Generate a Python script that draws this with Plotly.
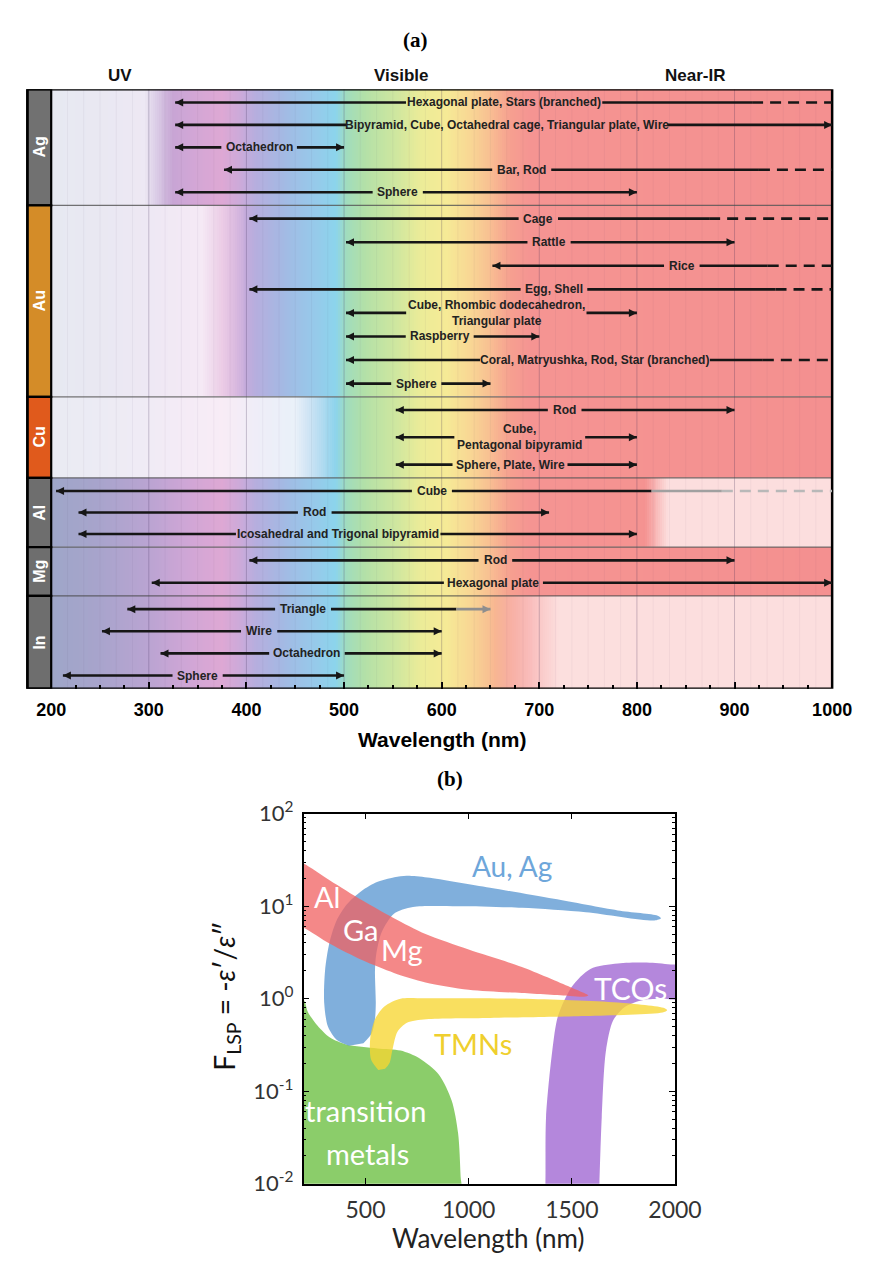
import numpy as np
import plotly.graph_objects as go

W, H = 882, 1267

# ======================= panel (a) data =======================
METALS = ["Ag", "Au", "Cu", "Al", "Mg", "In"]
METAL_COLORS = ["#717171", "#d48c28", "#e05a1c", "#6e6e6e", "#6e6e6e", "#6e6e6e"]

REGION_NAMES = ["UV", "Visible", "Near-IR"]
REGION_LABEL_AT = [270, 559, 859]          # nm

ARROW_METAL = ["Ag"] * 5 + ["Au"] * 8 + ["Cu"] * 3 + ["Al"] * 3 + ["Mg"] * 2 + ["In"] * 4
ARROW_LABEL = [
    "Hexagonal plate, Stars (branched)",
    "Bipyramid, Cube, Octahedral cage, Triangular plate, Wire",
    "Octahedron",
    "Bar, Rod",
    "Sphere",
    "Cage",
    "Rattle",
    "Rice",
    "Egg, Shell",
    "Cube, Rhombic dodecahedron,<br>Triangular plate",
    "Raspberry",
    "Coral, Matryushka, Rod, Star (branched)",
    "Sphere",
    "Rod",
    "Cube,<br>Pentagonal bipyramid",
    "Sphere, Plate, Wire",
    "Cube",
    "Rod",
    "Icosahedral and Trigonal bipyramid",
    "Rod",
    "Hexagonal plate",
    "Triangle",
    "Wire",
    "Octahedron",
    "Sphere",
]
ARROW_START = [327, 327, 327, 377, 327,
               403, 502, 652, 403, 502, 502, 502, 502,
               553, 553, 553,
               205, 228, 228,
               403, 303,
               278, 252, 312, 212]
ARROW_END = [1000, 1000, 500, 1000, 800,
             1000, 900, 1000, 1000, 800, 700, 1000, 650,
             900, 800, 800,
             1000, 710, 800,
             900, 1000,
             650, 600, 600, 500]
# wavelength where an open-ended range turns into a dashed line (None = closed range)
ARROW_DASH_FROM = [918, None, None, 925, None,
                   874, None, 934, 942, None, None, 929, None,
                   None, None, None,
                   887, None, None,
                   None, None,
                   None, None, None, None]
ARROW_LABEL_AT = [664, 667, 413, 682, 555,
                  699, 710, 846, 715, 656, 598, 757, 574,
                  726, 680, 670,
                  590, 470, 494,
                  655, 653,
                  458, 413, 462, 350]

# ======================= panel (b) data =======================
TM_WL = [150, 200, 222, 268, 328, 406, 558, 670, 763, 856, 918, 949, 961, 965, 150]
TM_F = [0.98, 0.97, 0.71, 0.51, 0.38, 0.32, 0.29, 0.275, 0.226, 0.151, 0.079, 0.035, 0.012, 0.005, 0.005]

AUAG_WL = [420, 360, 318, 300, 304, 325, 360, 410, 470, 550, 640, 700, 800, 1104, 1413, 1723, 1916, 1932,
           1900, 1568, 1258, 949, 730, 638, 578, 552, 546, 550, 546, 530, 490]
AUAG_F = [0.31, 0.36, 0.5, 0.9, 2.0, 4.0, 7.0, 10.5, 14.0, 18.0, 20.5, 21.3, 20.4, 15.8, 12.0, 9.0, 7.9, 7.4,
          7.0, 8.6, 9.6, 10.0, 9.8, 8.3, 5.2, 3.0, 2.0, 0.9, 0.6, 0.42, 0.33]

ALGAMG_WL = [150, 200, 328, 486, 638, 791, 1000, 1258, 1491, 1560, 1580,
             1560, 1491, 1258, 1000, 791, 638, 486, 330, 200, 150]
ALGAMG_F = [32, 29, 19, 11.5, 7.4, 5.0, 3.4, 2.2, 1.34, 1.15, 1.08,
            1.05, 1.07, 1.15, 1.25, 1.5, 1.9, 2.6, 3.9, 5.9, 6.6]

TMN_WL = [562, 527, 523, 546, 593, 670, 794, 1258, 1723, 1950, 1962,
          1940, 1568, 1104, 794, 701, 655, 632, 616, 595]
TMN_F = [0.17, 0.22, 0.37, 0.60, 0.83, 1.0, 1.01, 1.0, 0.91, 0.79, 0.75,
         0.71, 0.65, 0.62, 0.60, 0.55, 0.44, 0.29, 0.20, 0.175]

TCO_WL = [1367, 1372, 1375, 1405, 1433, 1500, 1590, 1723, 1878, 1990, 2060,
          2060, 1990, 1940, 1847, 1758, 1700, 1665, 1645, 1634, 1630]
TCO_F = [0.005, 0.01, 0.052, 0.27, 0.65, 1.35, 2.1, 2.4, 2.45, 2.34, 2.3,
         0.98, 0.98, 1.0, 0.97, 0.82, 0.58, 0.27, 0.052, 0.01, 0.005]

SHAPE_LABELS = ["Au, Ag", "Al", "Ga", "Mg", "TCOs", "TMNs", "transition", "metals"]
SHAPE_LABEL_WL = [1212, 314, 477, 678, 1785, 1019, 500, 508]
SHAPE_LABEL_F = [26.9, 12.6, 5.56, 3.39, 1.29, 0.324, 0.0617, 0.0214]

# ======================= styling / layout constants =======================
A_LEFT, A_RIGHT, A_TOP, A_BOT = 38, 858, 74, 688     # px
COL_LEFT = 13
GROUP_H = [119, 196, 83, 71, 50, 95]                 # px heights of metal rows
ROW_PAD = 13.5
PX_PER_NM = (A_RIGHT - A_LEFT) / 800.0
B_LEFT, B_RIGHT, B_TOP, B_BOT = 303, 693, 816, 1195

INK = "#161616"
FADE_INK = "#8e8e8e"
LABEL_SIZE = 12
GAP_PX = 6
LINE_W = 2.6
HEAD_SIZE = 8
FADED = {("Al", "Cube"): 815, ("In", "Triangle"): 615}

SPEC_NM = [200, 250, 300, 340, 375, 395, 410, 440, 470, 492, 502, 520, 550, 580, 605, 630, 650, 670, 690, 1000]
SPEC_RGB = [(158, 166, 200), (168, 164, 204), (186, 164, 210), (208, 166, 214), (222, 168, 212),
            (202, 170, 218), (182, 174, 222), (162, 186, 228), (150, 202, 234), (140, 212, 236),
            (160, 220, 190), (178, 224, 168), (204, 230, 160), (236, 236, 152), (246, 234, 150),
            (248, 214, 148), (248, 190, 146), (246, 160, 144), (245, 148, 146), (244, 144, 144)]
# (white mix before ramp, ramp start nm, ramp end nm, white mix after ramp)
WHITE_MIX = {"Ag": (0.75, 295, 325, 0.0), "Au": (0.75, 355, 400, 0.0), "Cu": (0.78, 450, 492, 0.0),
             "Al": (0.0, 808, 832, 0.7), "Mg": (0.0, 900, 950, 0.0), "In": (0.0, 655, 720, 0.7)}

HB = {' ': 278, ',': 278, '(': 333, ')': 333, '-': 333, '.': 278,
      'A': 722, 'B': 722, 'C': 722, 'D': 722, 'E': 667, 'F': 611, 'G': 778, 'H': 722, 'I': 278,
      'J': 556, 'K': 722, 'L': 611, 'M': 833, 'N': 722, 'O': 778, 'P': 667, 'Q': 778, 'R': 722,
      'S': 667, 'T': 611, 'U': 722, 'V': 667, 'W': 944, 'X': 667, 'Y': 667, 'Z': 611,
      'a': 556, 'b': 611, 'c': 556, 'd': 611, 'e': 556, 'f': 333, 'g': 611, 'h': 611, 'i': 278,
      'j': 278, 'k': 556, 'l': 278, 'm': 889, 'n': 611, 'o': 611, 'p': 611, 'q': 611, 'r': 389,
      's': 556, 't': 333, 'u': 611, 'v': 556, 'w': 778, 'x': 556, 'y': 556, 'z': 500}


def text_px(s, size):
    return max(sum(HB.get(ch, 556) for ch in ln) for ln in s.split("<br>")) * size / 1000.0


def px(x):
    return x / W


def py(y):
    return 1 - y / H


def note(**kw):
    d = dict(showarrow=False, xanchor="center", yanchor="middle")
    d.update(kw)
    return d


fig = go.Figure()
shapes = []
annotations = []

# ---------- background spectrum (one heatmap per metal row) ----------
lam_edges = np.arange(200, 1001, 2.0)
lam_c = (lam_edges[:-1] + lam_edges[1:]) / 2
spec = np.stack([np.interp(lam_c, SPEC_NM, [c[k] for c in SPEC_RGB]) for k in range(3)], axis=1)
N = len(lam_c)

group_top = np.concatenate([[0], np.cumsum(GROUP_H)[:-1]])
group_bot = np.cumsum(GROUP_H)

for g, metal in enumerate(METALS):
    w0, r0, r1, w1 = WHITE_MIX[metal]
    wmix = np.interp(lam_c, [r0, r1], [w0, w1])[:, None]
    rgb = spec * (1 - wmix) + 255 * wmix
    cs = [[i / (N - 1), "rgb(%d,%d,%d)" % tuple(np.round(rgb[i]).astype(int))] for i in range(N)]
    fig.add_trace(go.Heatmap(x=lam_edges, y=[group_top[g], group_bot[g]], z=[list(range(N))],
                             colorscale=cs, zmin=0, zmax=N - 1, showscale=False,
                             hoverinfo="skip", xaxis="x", yaxis="y"))

# faint vertical lines
for lam in range(300, 1000, 100):
    shapes.append(dict(type="line", xref="x", yref="y", x0=lam, x1=lam, y0=0, y1=sum(GROUP_H),
                       line=dict(color="rgba(70,50,90,0.22)", width=1), layer="above"))
for lam in np.arange(200, 1000, 100 / 6):
    shapes.append(dict(type="line", xref="x", yref="y", x0=lam, x1=lam, y0=0, y1=sum(GROUP_H),
                       line=dict(color="rgba(70,50,90,0.05)", width=1), layer="above"))
# horizontal separators
for yb in group_bot[:-1]:
    shapes.append(dict(type="line", xref="x", yref="y", x0=200, x1=1000, y0=yb, y1=yb,
                       line=dict(color="rgba(70,70,70,0.75)", width=1.2)))

# metal label column
for g, metal in enumerate(METALS):
    shapes.append(dict(type="rect", xref="paper", yref="y", x0=px(COL_LEFT), x1=px(A_LEFT),
                       y0=group_top[g], y1=group_bot[g], fillcolor=METAL_COLORS[g],
                       line=dict(color="black", width=2.2)))
    annotations.append(note(xref="paper", yref="y", x=px((COL_LEFT + A_LEFT) / 2),
                            y=(group_top[g] + group_bot[g]) / 2, text="<b>%s</b>" % metal,
                            textangle=-90,
                            font=dict(family="Liberation Sans", size=16, color="white")))

# frame
shapes.append(dict(type="rect", xref="paper", yref="y", x0=px(COL_LEFT), x1=px(A_RIGHT),
                   y0=0, y1=sum(GROUP_H), line=dict(color="black", width=2.5)))

# ---------- arrows ----------
arrow_y = []
for g, metal in enumerate(METALS):
    idx = [i for i, m in enumerate(ARROW_METAL) if m == metal]
    n = len(idx)
    top = group_top[g] + ROW_PAD
    bot = group_bot[g] - ROW_PAD
    for k in range(n):
        arrow_y.append(top + (bot - top) * k / (n - 1) if n > 1 else (top + bot) / 2)


def seg(x0, x1, y, color, dash="solid"):
    return dict(type="line", xref="x", yref="y", x0=x0, x1=x1, y0=y, y1=y,
                line=dict(color=color, width=LINE_W, dash=dash))


heads = {("left", INK): ([], []), ("right", INK): ([], []), ("right", FADE_INK): ([], [])}
DASH = "11px,7px"
for i, lab in enumerate(ARROW_LABEL):
    y = arrow_y[i]
    half = (text_px(lab, LABEL_SIZE) / 2 + GAP_PX) / PX_PER_NM
    xl = ARROW_LABEL_AT[i] - half
    xr = ARROW_LABEL_AT[i] + half
    shapes.append(seg(ARROW_START[i], xl, y, INK))
    heads[("left", INK)][0].append(ARROW_START[i])
    heads[("left", INK)][1].append(y)
    fade = FADED.get((ARROW_METAL[i], lab))
    dfrom = ARROW_DASH_FROM[i]
    end = ARROW_END[i]
    if fade is None:
        if dfrom is None:
            shapes.append(seg(xr, end, y, INK))
            heads[("right", INK)][0].append(end)
            heads[("right", INK)][1].append(y)
        else:
            shapes.append(seg(xr, dfrom, y, INK))
            shapes.append(seg(dfrom, end, y, INK, DASH))
    else:
        shapes.append(seg(xr, fade, y, INK))
        if dfrom is None:
            shapes.append(seg(fade, end, y, FADE_INK))
            heads[("right", FADE_INK)][0].append(end)
            heads[("right", FADE_INK)][1].append(y)
        else:
            shapes.append(seg(fade, dfrom, y, "#a0a0a0"))
            shapes.append(seg(dfrom, end, y, "#b8b8b8", DASH))
    annotations.append(note(x=ARROW_LABEL_AT[i], y=y, xref="x", yref="y", text="<b>%s</b>" % lab,
                            font=dict(family="Liberation Sans", size=LABEL_SIZE, color="#222"),
                            align="center"))

for (side, col), (xs, ys) in heads.items():
    fig.add_trace(go.Scatter(x=xs, y=ys, mode="markers", xaxis="x", yaxis="y", hoverinfo="skip",
                             marker=dict(symbol="arrow-%s" % side, size=HEAD_SIZE, color=col,
                                         line=dict(width=0)), cliponaxis=False))

# region headers
for name, lam in zip(REGION_NAMES, REGION_LABEL_AT):
    annotations.append(note(x=lam, y=py(60), xref="x", yref="paper", text="<b>%s</b>" % name,
                            font=dict(family="Liberation Sans", size=17, color="#111")))

annotations.append(note(x=px(420), y=py(24), xref="paper", yref="paper", text="<b>(a)</b>",
                        font=dict(family="Liberation Serif", size=21, color="black")))
annotations.append(note(x=px(448), y=py(740), xref="paper", yref="paper", text="<b>Wavelength (nm)</b>",
                        font=dict(family="Liberation Sans", size=21, color="black")))

# ======================= panel (b) =======================
B_FILLS = [
    (TM_WL, TM_F, "rgba(106,191,64,0.78)"),
    (TCO_WL, TCO_F, "rgba(161,105,211,0.8)"),
    (AUAG_WL, AUAG_F, "rgba(92,152,210,0.78)"),
    (ALGAMG_WL, ALGAMG_F, "rgba(240,96,96,0.75)"),
    (TMN_WL, TMN_F, "rgba(247,214,50,0.78)"),
]
for xs, ys, col in B_FILLS:
    fig.add_trace(go.Scatter(x=xs, y=ys, mode="lines", fill="toself", fillcolor=col,
                             line=dict(width=0, color=col, shape="spline", smoothing=0.8),
                             hoverinfo="skip", showlegend=False, xaxis="x2", yaxis="y2"))

LABEL_COLORS = ["#6ea6da", "white", "white", "white", "white", "#efcf2e", "white", "white"]
LABEL_SIZES = [28, 29, 29, 29, 30, 29, 29, 29]
for t, xw, f, c, s in zip(SHAPE_LABELS, SHAPE_LABEL_WL, SHAPE_LABEL_F, LABEL_COLORS, LABEL_SIZES):
    annotations.append(note(x=xw, y=np.log10(f), xref="x2", yref="y2", text=t,
                            font=dict(family="Lato", size=s, color=c)))

annotations.append(note(x=px(457), y=py(780), xref="paper", yref="paper", text="<b>(b)</b>",
                        font=dict(family="Liberation Serif", size=21, color="black")))
annotations.append(note(x=px(497), y=py(1251), xref="paper", yref="paper", text="Wavelength (nm)",
                        font=dict(family="Lato", size=26, color="#222")))
annotations.append(note(x=px(222), y=py(1003), xref="paper", yref="paper",
                        text="F<sub>LSP</sub> = -<i>ε</i>′/<i>ε</i>″", textangle=-90,
                        font=dict(family="Lato", size=28, color="#111")))

minor_log = [m * 10.0 ** e for e in range(-2, 2) for m in range(2, 10)]

fig.update_layout(
    width=W, height=H, margin=dict(l=0, r=0, t=0, b=0),
    paper_bgcolor="white", plot_bgcolor="rgba(0,0,0,0)",
    showlegend=False, hovermode=False,
    xaxis=dict(domain=[px(A_LEFT), px(A_RIGHT)], range=[200, 1000], anchor="y",
               tickvals=list(range(200, 1001, 100)),
               ticktext=["<b>%d</b>" % v for v in range(200, 1001, 100)],
               ticks="inside", ticklen=7, tickwidth=1.8, tickcolor="black",
               minor=dict(dtick=25, tick0=0, ticks="inside", ticklen=4, tickwidth=1.5, tickcolor="black"),
               showline=False, showgrid=False, zeroline=False, ticklabelstandoff=8,
               tickfont=dict(family="Liberation Sans", size=18, color="black")),
    yaxis=dict(domain=[py(A_BOT), py(A_TOP)], range=[sum(GROUP_H), 0], anchor="x",
               visible=False, showgrid=False, zeroline=False),
    xaxis2=dict(domain=[px(B_LEFT), px(B_RIGHT)], range=[200, 2000], anchor="y2",
                tickvals=[500, 1000, 1500, 2000], ticks="inside", ticklen=6, tickwidth=1.2,
                tickcolor="black", mirror="ticks", showline=True, linecolor="black", linewidth=1.6,
                showgrid=False, zeroline=False, ticklabelstandoff=5,
                tickfont=dict(family="Lato", size=23, color="#333")),
    yaxis2=dict(domain=[py(B_BOT), py(B_TOP)], type="log", range=[-2, 2], anchor="x2",
                tickvals=[0.01, 0.1, 1, 10, 100],
                ticktext=["10<sup>-2</sup>", "10<sup>-1</sup>", "10<sup>0</sup>", "10<sup>1</sup>", "10<sup>2</sup>"],
                ticks="inside", ticklen=6, tickwidth=1.2, tickcolor="black", mirror="ticks",
                minor=dict(tickmode="array", tickvals=minor_log, ticks="inside", ticklen=3,
                           tickwidth=1, tickcolor="black"),
                showline=True, linecolor="black", linewidth=1.6, showgrid=False, zeroline=False,
                ticklabelstandoff=4, tickfont=dict(family="Lato", size=22, color="#333")),
    shapes=shapes, annotations=annotations,
)

fig.write_html("out.html")
